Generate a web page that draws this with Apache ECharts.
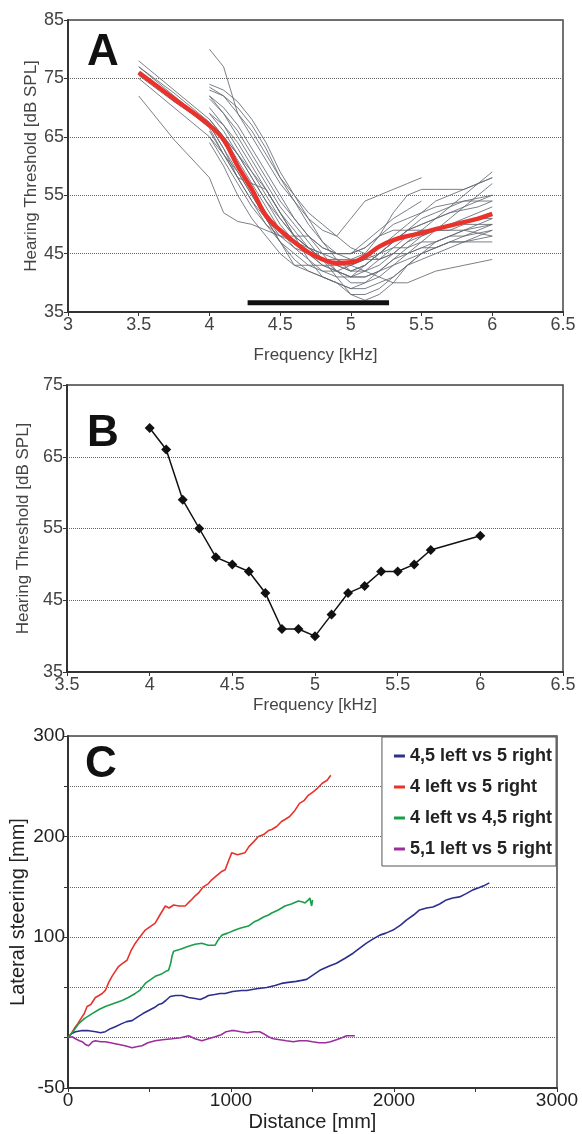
<!DOCTYPE html>
<html>
<head>
<meta charset="utf-8">
<script src="https://cdn.jsdelivr.net/npm/echarts@6/dist/echarts.min.js"></script>
<style>
html,body{margin:0;padding:0;background:#fff;}
#chart{width:582px;height:1134px;}
</style>
</head>
<body>
<div id="chart"></div>
<script>
// ---------- Panel A ----------
const A_freq = [3.5, 3.75, 4.0, 4.1, 4.2, 4.3, 4.4, 4.5, 4.6, 4.7, 4.8, 4.9, 5.0, 5.1, 5.2, 5.3, 5.4, 5.5, 5.6, 5.7, 5.8, 5.9, 6.0];
const A_mean = [76, 71.5, 67, 64.5, 60, 56, 51.5, 49, 47, 45.2, 44, 43.4, 43.5, 44.5, 46.2, 47.3, 48, 48.5, 49.2, 49.8, 50.4, 51, 51.8];
const n = null;
const A_individual = [
  [78, 73, 68, 65, 61, 57, 53, 49, 46, 44, 42, 41, 41, 43, 45, 47, 49, 50, 51, 52, 53, 54, 55],
  [77, 72.5, 67.5, 64, 60, 56, 52, 49, 47, 46, 45, 44, 43, 44, 46, 48, 50, 52, 54, 55, 56, 57, 58],
  [77, 72, 67, 63, 59, 55, 51, 47, 44, 42, 41, 40, 39, 40, 42, 44, 45, 46, 47, 48, 49, 49.5, 50],
  [76, 71.5, 66.5, 62, 58, 54, 50, 47, 45, 43, 42, 42, 43, 44, 45, 46, 46, 47, 47, 48, 48, 48.5, 49],
  [75.5, 71, 67, 65, 62, 58, 54, 51, 48, 46, 45, 45, 45, 46, 48, 49, 49, 49, 49, 49, 50, 50, 50],
  [75, 70, 65, 61, 57, 53, 50, 48, 46, 45, 44, 44, 44, 44, 44, 45, 45, 46, 46, 47, 47, 47.5, 48],
  [72, 64.5, 58, 52, 50.5, 50, 49, 48, 47, 45, 43, 42, 41, 41, 42, 43, 44, 45, 46, 47, 47, 47, 47],
  [n, n, 80, 77, 69, 65, 61, 57, 54, 51, 49, 48, 51, 54, 55, 56, 57, 58, n, n, n, n, n],
  [n, n, 74, 73, 71, 68, 64, 59, 55, 51, 47, 44, 42, 42, 43, 45, 47, 49, 51, 53, 55, 57, 59],
  [n, n, 73, 72, 70, 67, 63, 58, 54, 50, 47, 45, 44, 45, 48, 52, 55, 56, 56, 56, 56, 57, 58],
  [n, n, 72, 70, 67, 63, 59, 55, 51, 48, 45, 42, 40, 40, 41, 43, 45, 47, 49, 51, 53, 55, 57],
  [n, n, 72, 69, 65, 61, 57, 53, 50, 47, 44, 41, 38, 38, 39, 41, 43, 45, 47, 48, 49, 50, 51],
  [n, n, 71.5, 69, 66, 62, 58, 54, 51, 48, 46, 45, 45, 46, 48, 50, 51, 52, 53, 53.5, 54, 54.5, 55],
  [n, n, 70, 67, 63, 59, 55, 51, 48, 46, 44, 43, 42, 43, 45, 47, 49, 50, 51, 52, 52.5, 53, 54],
  [n, n, 69, 66, 62, 58, 54, 50, 47, 45, 43, 42, 41, 41, 42, 44, 46, 48, 49, 50, 50.5, 51, 51],
  [n, n, 68, 65, 62, 59, 56, 52, 48, 44, 41, 40, 38, 37, 38, 40, 43, 45, 46, 47, 48, 49, 50],
  [n, n, 67, 63, 58, 57, 56, 52, 48, 46, 44, 43, 42, 43, 45, 47, 49, 51, 52, 53, 54, 54, 54],
  [n, n, 66, 62, 58, 54, 51, 48, 48, 48, 46, 45, 45, 47, 49, 51, 52.5, 54, n, n, n, n, n],
  [n, n, 65, 62, 59, 55, 51, 47, 43, 43, 43, 43, 43, 42, 41, 40, 40, 41, 42, 42.5, 43, 43.5, 44],
  [n, n, 69, 67, 64, 60, 56, 52, 49, 46, 44, 42, 41, 42, 44, 46, 48, 49, 49, 49, 49, 48.5, 48],
  [n, n, 64, 60, 55, 51, 48, 45, 43, 42, 41, 40, 39, 39, 40, 41, 43, 44, 45, 46, 47, 48, 49],
  [n, n, 73.5, 72, 69, 66, 62, 58, 55, 52, 50, 48, 46, 45, 44, 45, 47, 48, 49, 50, 51, 52, 53]
];
const A_barFreq = [4.27, 5.27];
const A_barLevel = 36.6;

// ---------- Panel B ----------
const B_freq = [4.0, 4.1, 4.2, 4.3, 4.4, 4.5, 4.6, 4.7, 4.8, 4.9, 5.0, 5.1, 5.2, 5.3, 5.4, 5.5, 5.6, 5.7, 6.0];
const B_threshold = [69, 66, 59, 55, 51, 50, 49, 46, 41, 41, 40, 43, 46, 47, 49, 49, 50, 52, 54];

// ---------- Panel C ----------
const C_names = ['4,5 left vs 5 right', '4 left vs 5 right', '4 left vs 4,5 right', '5,1 left vs 5 right'];
const C_colors = ['#2b2f8f', '#e8322c', '#1a9e4b', '#9a2f9c'];
const C_blue = [[0,0],[20,4],[46,6],[80,7],[127,7],[170,6],[200,5],[229,6],[260,9],[290,11],[330,14],[360,16],[393,17],[430,21],[460,24],[495,27],[530,30],[555,33],[576,34],[600,37],[627,41],[660,42],[699,42],[740,40],[780,39],[811,38],[840,40],[862,42],[900,43],[933,44],[964,44],[1010,46],[1066,47],[1097,47],[1130,48],[1168,49],[1219,50],[1270,52],[1310,54],[1351,55],[1400,56],[1433,57],[1464,58],[1500,62],[1545,67],[1600,71],[1647,74],[1700,79],[1749,84],[1790,89],[1831,94],[1870,98],[1913,102],[1950,104],[1994,107],[2040,112],[2076,117],[2120,122],[2157,127],[2200,129],[2239,130],[2280,133],[2321,137],[2360,139],[2402,140],[2440,143],[2484,147],[2520,149],[2550,151],[2585,154]];
const C_red = [[0,0],[20,4],[46,11],[60,14],[87,21],[100,24],[117,31],[140,33],[168,40],[190,42],[210,44],[229,47],[250,55],[270,61],[290,66],[311,71],[335,74],[362,77],[385,86],[413,94],[440,100],[474,107],[500,110],[535,114],[560,121],[597,131],[620,129],[648,132],[680,131],[719,131],[750,136],[780,141],[801,144],[830,150],[860,153],[882,157],[910,161],[940,165],[964,167],[985,176],[1005,184],[1040,182],[1086,184],[1110,190],[1140,195],[1168,200],[1200,202],[1230,206],[1250,207],[1280,210],[1310,215],[1331,217],[1360,220],[1392,226],[1420,233],[1450,236],[1474,241],[1500,244],[1530,248],[1560,253],[1590,256],[1612,261]];
const C_green = [[0,0],[30,6],[66,14],[100,19],[148,24],[190,28],[229,31],[280,34],[332,37],[370,40],[413,44],[440,47],[474,54],[500,57],[535,61],[570,63],[600,66],[617,67],[630,74],[638,81],[648,86],[658,87],[690,88],[739,91],[780,93],[821,94],[860,92],[903,92],[920,97],[944,102],[980,104],[1025,107],[1060,109],[1107,111],[1140,115],[1168,117],[1200,120],[1230,122],[1250,124],[1290,127],[1331,131],[1370,133],[1413,136],[1440,135],[1454,134],[1475,137],[1484,139],[1490,134],[1495,131],[1500,137]];
const C_purple = [[0,0],[25,1],[46,-1],[70,-3],[87,-4],[110,-7],[127,-8],[150,-4],[168,-3],[200,-4],[229,-4],[260,-5],[290,-6],[320,-7],[350,-8],[393,-10],[420,-9],[454,-8],[490,-5],[535,-3],[580,-2],[638,-1],[690,0],[740,2],[780,-1],[821,-3],[860,-1],[903,1],[940,3],[970,6],[1000,7],[1025,7],[1060,6],[1100,5],[1140,6],[1176,6],[1200,4],[1229,1],[1260,-1],[1300,-2],[1340,-3],[1382,-4],[1420,-3],[1464,-3],[1500,-4],[1540,-5],[1580,-5],[1610,-4],[1647,-2],[1680,0],[1709,2],[1740,2],[1760,2]];
const C_yLabels = [300, 200, 100, -50];
const C_xLabelStep = 1000;

// ---------- Build chart ----------
const FONT = '"Liberation Sans", Arial, sans-serif';
const chart = echarts.init(document.getElementById('chart'), null, {renderer: 'canvas'});

function axisCommon(labelSize, labelColor, nameSize, nameColor) {
  return {
    type: 'value',
    nameLocation: 'middle',
    nameMoveOverlap: false,
    nameTextStyle: {fontFamily: FONT, fontSize: nameSize, color: nameColor},
    axisLine: {show: true, onZero: false, lineStyle: {color: '#333', width: 2}},
    axisTick: {show: true, inside: false, length: 4, lineStyle: {color: '#333', width: 1}},
    axisLabel: {fontFamily: FONT, fontSize: labelSize, color: labelColor, margin: 4},
    splitLine: {show: false}
  };
}
const dotted = {show: true, lineStyle: {type: 'dotted', color: '#666', width: 1}};

const series = [];
A_individual.forEach((line, k) => {
  series.push({
    type: 'line', xAxisIndex: 0, yAxisIndex: 0, name: 'ind' + k,
    data: A_freq.map((f, i) => [f, line[i]]).filter(p => p[1] !== null),
    showSymbol: false, silent: true, z: 2,
    lineStyle: {color: '#646a72', width: 1, opacity: 0.85}
  });
});
series.push({
  type: 'line', xAxisIndex: 0, yAxisIndex: 0, name: 'mean',
  data: A_freq.map((f, i) => [f, A_mean[i]]),
  showSymbol: false, smooth: 0.4, z: 4,
  lineStyle: {color: '#e8322b', width: 4.5}
});
series.push({
  type: 'line', xAxisIndex: 0, yAxisIndex: 0, name: 'bar',
  data: A_barFreq.map(f => [f, A_barLevel]),
  showSymbol: false, z: 5,
  lineStyle: {color: '#111', width: 5, cap: 'butt'}
});
series.push({
  type: 'line', xAxisIndex: 1, yAxisIndex: 1, name: 'B',
  data: B_freq.map((f, i) => [f, B_threshold[i]]),
  symbol: 'diamond', symbolSize: 10, showSymbol: true,
  itemStyle: {color: '#111'},
  lineStyle: {color: '#111', width: 1.5}
});
[C_blue, C_red, C_green, C_purple].forEach((d, k) => {
  series.push({
    type: 'line', xAxisIndex: 2, yAxisIndex: 2, name: C_names[k],
    data: d, showSymbol: false, color: C_colors[k],
    lineStyle: {color: C_colors[k], width: 1.6}
  });
});

const gridStyle = {show: true, borderColor: '#444', borderWidth: 1.5, backgroundColor: '#fff', containLabel: false, outerBoundsMode: 'none'};

const option = {
  animation: false,
  backgroundColor: '#fff',
  grid: [
    Object.assign({left: 68, top: 20, width: 495, height: 292}, gridStyle),
    Object.assign({left: 67, top: 385, width: 496, height: 287}, gridStyle),
    Object.assign({left: 68, top: 736, width: 489, height: 352}, gridStyle)
  ],
  xAxis: [
    Object.assign(axisCommon(18, '#444', 17, '#444'), {gridIndex: 0, min: 3, max: 6.5, interval: 0.5, name: 'Frequency [kHz]', nameGap: 35}),
    Object.assign(axisCommon(18, '#444', 17, '#444'), {gridIndex: 1, min: 3.5, max: 6.5, interval: 0.5, name: 'Frequency [kHz]', nameGap: 25}),
    Object.assign(axisCommon(19, '#222', 20, '#222'), {gridIndex: 2, min: 0, max: 3000, interval: 500, name: 'Distance [mm]', nameGap: 24,
      axisLabel: {fontFamily: FONT, fontSize: 19, color: '#222', margin: 3, formatter: v => (v % C_xLabelStep === 0 ? String(v) : '')}})
  ],
  yAxis: [
    Object.assign(axisCommon(18, '#444', 17, '#444'), {gridIndex: 0, min: 35, max: 85, interval: 10, name: 'Hearing Threshold [dB SPL]', nameGap: 28, splitLine: dotted}),
    Object.assign(axisCommon(18, '#444', 17, '#444'), {gridIndex: 1, min: 35, max: 75, interval: 10, name: 'Hearing Threshold [dB SPL]', nameGap: 35, splitLine: dotted}),
    Object.assign(axisCommon(19, '#222', 20, '#222'), {gridIndex: 2, min: -50, max: 300, interval: 50, name: 'Lateral steering [mm]', nameGap: 40, splitLine: dotted,
      axisLabel: {fontFamily: FONT, fontSize: 19, color: '#222', margin: 3, formatter: v => (C_yLabels.indexOf(v) >= 0 ? String(v) : '')}})
  ],
  legend: {
    show: true, data: C_names, orient: 'vertical', right: 26, top: 737,
    backgroundColor: '#fff', borderColor: '#555', borderWidth: 1, borderRadius: 0,
    padding: [9, 4, 7, 12], itemGap: 11, itemWidth: 11, itemHeight: 3, icon: 'rect',
    textStyle: {fontFamily: FONT, fontWeight: 'bold', fontSize: 18, color: '#222', lineHeight: 20}
  },
  graphic: [
    {type: 'text', left: 87, top: 31, z: 100, style: {text: 'A', font: 'bold 44px "Liberation Sans", Arial', fill: '#111'}},
    {type: 'text', left: 87, top: 412, z: 100, style: {text: 'B', font: 'bold 44px "Liberation Sans", Arial', fill: '#111'}},
    {type: 'text', left: 85, top: 743, z: 100, style: {text: 'C', font: 'bold 44px "Liberation Sans", Arial', fill: '#111'}}
  ],
  series: series
};
chart.setOption(option);
</script>
</body>
</html>
